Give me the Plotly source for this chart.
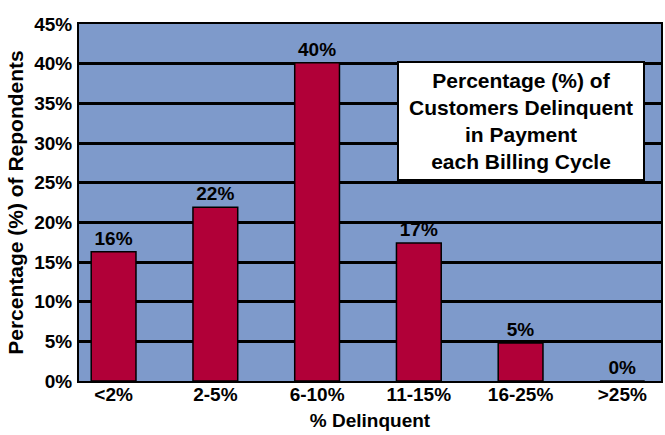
import plotly.graph_objects as go

categories = ["<2%", "2-5%", "6-10%", "11-15%", "16-25%", ">25%"]
values = [16.3, 21.9, 40.1, 17.4, 4.8, 0]
labels = ["16%", "22%", "40%", "17%", "5%", "0%"]
y_ticks = [0, 5, 10, 15, 20, 25, 30, 35, 40, 45]
y_tick_text = [f"{v}%" for v in y_ticks]

FONT = "Liberation Sans, Arial, sans-serif"

fig = go.Figure(
    go.Bar(
        x=categories,
        y=values,
        text=labels,
        textposition="outside",
        cliponaxis=False,
        textfont=dict(family=FONT, size=19, color="black", weight="bold"),
        marker=dict(color="#B10038", line=dict(color="black", width=1.5)),
        width=0.44,
    )
)

fig.update_layout(
    width=665,
    height=435,
    margin=dict(l=79, r=2, t=24, b=54),
    paper_bgcolor="white",
    plot_bgcolor="#7E9ACB",
    showlegend=False,
    font=dict(family=FONT, size=19, color="black", weight="bold"),
    xaxis=dict(
        type="category",
        range=[-0.34, 5.38],
        showline=True,
        linecolor="black",
        linewidth=2,
        mirror=True,
        showgrid=False,
        ticks="",
        ticklabelstandoff=-5,
        tickfont=dict(family=FONT, size=19, color="black", weight="bold"),
        title=dict(text="% Delinquent", font=dict(family=FONT, size=19, weight="bold"), standoff=10),
    ),
    yaxis=dict(
        range=[0, 45],
        tickvals=y_ticks,
        ticktext=y_tick_text,
        showline=True,
        linecolor="black",
        linewidth=2,
        mirror=True,
        showgrid=True,
        gridcolor="black",
        gridwidth=2.5,
        zeroline=False,
        ticks="outside",
        ticklen=1,
        tickcolor="rgba(0,0,0,0)",
        tickfont=dict(family=FONT, size=19, color="black", weight="bold"),
        title=dict(text="Percentage (%) of Repondents", font=dict(family=FONT, size=21, weight="bold"), standoff=5),
    ),
    annotations=[
        dict(
            text="Percentage (%) of<br>Customers Delinquent<br>in Payment<br>each Billing Cycle",
            xref="paper",
            yref="paper",
            x=0.76,
            y=0.727,
            xanchor="center",
            yanchor="middle",
            showarrow=False,
            align="center",
            bgcolor="white",
            bordercolor="black",
            borderwidth=2,
            borderpad=2,
            width=240,
            height=112,
            font=dict(family=FONT, size=21, color="black", weight="bold"),
        )
    ],
)

fig.write_html(
    "out.html",
    config={"displayModeBar": False},
    post_script="document.body.style.margin='0px';document.body.style.overflow='hidden';",
)
